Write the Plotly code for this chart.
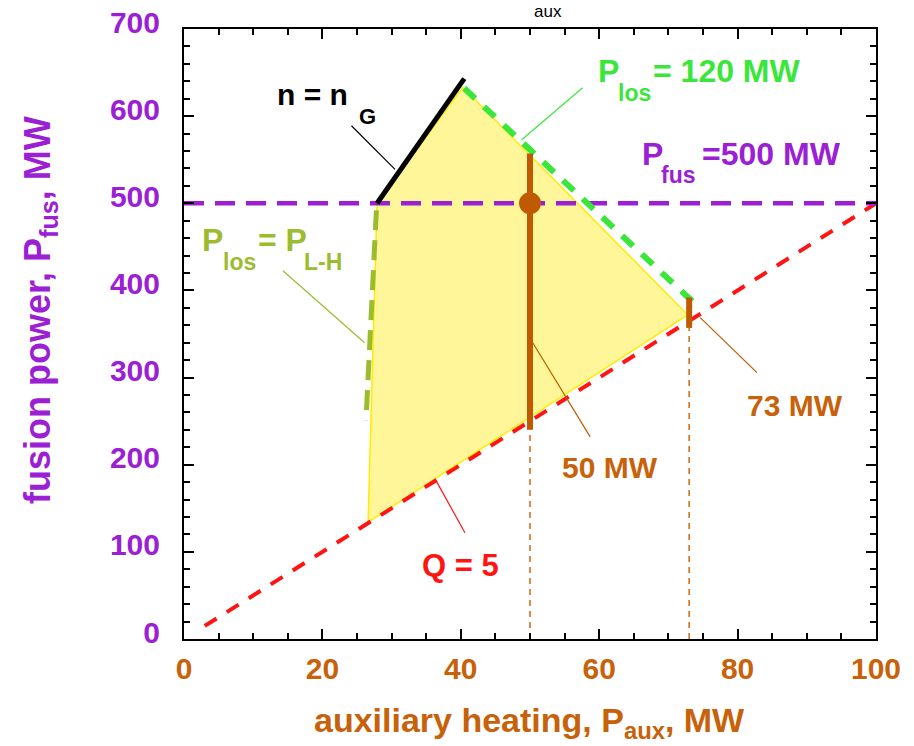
import plotly.graph_objects as go

# Operating window in the (P_aux, P_fus) plane, MW
window_x = [27.9, 40.3, 72.8, 26.6, 27.9]
window_y = [500, 633, 372, 134, 500]

# Q = 5 line
q5_x = [3, 100]
q5_y = [15, 500]

# P_fus = 500 MW target
pfus_x = [0, 100]
pfus_y = [500, 500]

# Greenwald density limit n = n_G
ng_x = [27.9, 40.5]
ng_y = [500, 643]

# P_los = 120 MW
plos_x = [40.5, 74.2]
plos_y = [632, 382]

# P_los = P_L-H threshold
plh_x = [27.8, 26.3]
plh_y = [492, 251]

# Heating powers marked on the chart
op_x = [50, 50]
op_y = [240, 557]
max_x = [73, 73]
max_y = [357, 392]
drop50_x = [50, 50]
drop50_y = [0, 240]
drop73_x = [73, 73]
drop73_y = [0, 357]
point_x = [50]
point_y = [500]

PURPLE = "#9b20d4"
ORANGE = "#c8620a"
BROWN = "#c05a00"
GREEN = "#3be63b"
OLIVE = "#9cbc30"
RED = "#ff1414"
FONT = "Liberation Sans"

W, H = 914, 746
L, R, T, B = 184, 38, 29, 107
PW, PH = W - L - R, H - T - B

fig = go.Figure()

fig.add_trace(go.Scatter(x=window_x, y=window_y, mode="lines", fill="toself",
                         fillcolor="#fff69a", line=dict(color="#ffec00", width=1.5),
                         hoverinfo="skip"))
fig.add_trace(go.Scatter(x=drop50_x, y=drop50_y, mode="lines",
                         line=dict(color="#d2711c", width=1.6, dash="6px,5px")))
fig.add_trace(go.Scatter(x=drop73_x, y=drop73_y, mode="lines",
                         line=dict(color="#d2711c", width=1.6, dash="6px,5px")))
fig.add_trace(go.Scatter(x=q5_x, y=q5_y, mode="lines",
                         line=dict(color=RED, width=4, dash="14px,12px")))
fig.add_trace(go.Scatter(x=pfus_x, y=pfus_y, mode="lines",
                         line=dict(color=PURPLE, width=4.5, dash="20px,11px")))
fig.add_trace(go.Scatter(x=plh_x, y=plh_y, mode="lines",
                         line=dict(color=OLIVE, width=5, dash="20px,10px")))
fig.add_trace(go.Scatter(x=ng_x, y=ng_y, mode="lines",
                         line=dict(color="black", width=5)))
fig.add_trace(go.Scatter(x=plos_x, y=plos_y, mode="lines",
                         line=dict(color=GREEN, width=6, dash="15px,12px")))
fig.add_trace(go.Scatter(x=op_x, y=op_y, mode="lines",
                         line=dict(color=BROWN, width=6)))
fig.add_trace(go.Scatter(x=max_x, y=max_y, mode="lines",
                         line=dict(color=BROWN, width=6)))
fig.add_trace(go.Scatter(x=point_x, y=point_y, mode="markers",
                         marker=dict(color=BROWN, size=22)))

# leader lines from labels to curves
leaders = [
    ([24.2, 30.5], [589, 539], "black"),
    ([57.6, 48.8], [632.6, 573], GREEN),
    ([14.3, 26.1], [422.6, 340], OLIVE),
    ([74.6, 82.8], [368.8, 305.7], BROWN),
    ([50.4, 58.7], [340, 232], BROWN),
    ([36.5, 40.6], [180.6, 122], RED),
]
for lx, ly, c in leaders:
    fig.add_shape(type="line", x0=lx[0], y0=ly[0], x1=lx[1], y1=ly[1],
                  line=dict(color=c, width=1.2), layer="above")


def text_at(text, px, py, color, size, xanchor="left", bold=True, angle=0):
    """Place a text by page pixel position (px from left, py from top)."""
    fig.add_annotation(text=text, x=(px - L) / PW, y=(H - py - B) / PH,
                       xref="paper", yref="paper", showarrow=False,
                       xanchor=xanchor, yanchor="middle", textangle=angle,
                       font=dict(family=FONT, size=size, color=color,
                                 weight="bold" if bold else "normal"))


# n = n_G
text_at("n = n", 275, 95, "black", 30)
text_at("G", 357, 117, "black", 22)
# P_los = 120 MW
text_at("P", 596, 71, GREEN, 32)
text_at("los", 616, 93, GREEN, 23)
text_at("= 120 MW", 651, 71, GREEN, 32)
# P_fus = 500 MW
text_at("P", 640, 154, PURPLE, 32)
text_at("fus", 659, 175, PURPLE, 23)
text_at("=500 MW", 700, 154, PURPLE, 32)
# P_los = P_L-H
text_at("P", 200, 240, OLIVE, 32)
text_at("los", 221, 262, OLIVE, 23)
text_at("= P", 256, 240, OLIVE, 32)
text_at("L-H", 302, 262, OLIVE, 23)
# heating values and Q
text_at("73 MW", 795, 405, ORANGE, 30, xanchor="center")
text_at("50 MW", 610, 468, ORANGE, 30, xanchor="center")
text_at("Q = 5", 460, 565, RED, 31, xanchor="center")

# axis titles
text_at("auxiliary heating, P<sub>aux</sub>, MW", 529, 722, ORANGE, 34, xanchor="center")
text_at("fusion power, P<sub>fus</sub>, MW", 40, 310, PURPLE, 36, xanchor="center", angle=-90)
text_at("aux", 548, 12, "black", 17, xanchor="center", bold=False)

fig.update_layout(
    width=W, height=H,
    margin=dict(l=L, r=R, t=T, b=B, pad=0, autoexpand=False),
    paper_bgcolor="white", plot_bgcolor="white",
    showlegend=False,
    xaxis=dict(range=[0, 100], dtick=20, ticks="inside", ticklen=10, tickwidth=1.5,
               tickcolor="black", showline=True, linewidth=2, linecolor="black",
               mirror="ticks", showgrid=False, zeroline=False, automargin=False,
               tickfont=dict(family=FONT, size=30, color=ORANGE, weight="bold"),
               ticklabelstandoff=2,
               minor=dict(dtick=5, ticks="inside", ticklen=6, tickwidth=1.5,
                          tickcolor="black", showgrid=False)),
    yaxis=dict(range=[0, 700], dtick=100, ticks="inside", ticklen=10, tickwidth=1.5,
               tickcolor="black", showline=True, linewidth=2, linecolor="black",
               mirror="ticks", showgrid=False, zeroline=False, automargin=False,
               tickfont=dict(family=FONT, size=30, color=PURPLE, weight="bold"),
               ticklabelstandoff=16, ticklabelshift=-7,
               minor=dict(dtick=20, ticks="inside", ticklen=6, tickwidth=1.5,
                          tickcolor="black", showgrid=False)),
)

fig.write_html("out.html")
